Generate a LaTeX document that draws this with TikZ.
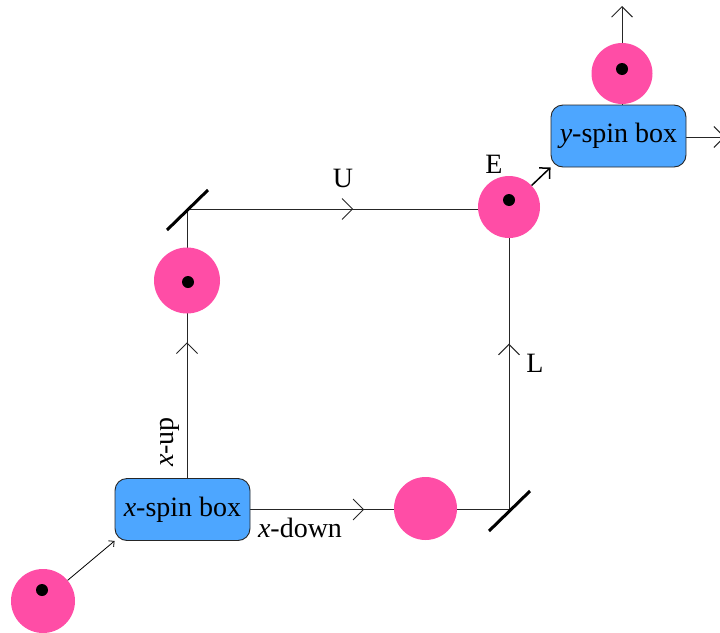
\documentclass[tikz,border=0pt]{standalone}
\usepackage{fontspec}
\setmainfont{Liberation Serif}
\newfontfamily\tms{Liberation Serif}
\usetikzlibrary{arrows.meta,decorations.markings,backgrounds}
\definecolor{ballpink}{RGB}{255,77,166}
\definecolor{boxblue}{RGB}{77,166,255}
\begin{document}
\begin{tikzpicture}[x=1pt,y=-1pt,
  bigbarb/.tip={Straight Barb[length=10.5pt,width=21pt]},
  ln/.style={line width=0.9pt,black!85},
  spinbox/.style={draw=black!85,line width=0.9pt,rounded corners=12pt,fill=boxblue,
    minimum width=135pt,minimum height=62pt,inner sep=0pt,
    font=\tms\fontsize{28}{33}\selectfont},
  ball/.style={circle,fill=ballpink,inner sep=0pt,minimum size=#1},
  dotmark/.style={circle,fill=black,inner sep=0pt,minimum size=12pt},
  mirror/.style={line width=3pt,black},
  lbl/.style={inner sep=0pt,font=\tms\fontsize{28}{33}\selectfont},
  midarrow/.style={postaction={decorate},
    decoration={markings,mark=at position #1 with {\arrow{bigbarb}}}}]
\useasboundingbox (0,0) rectangle (720,632);

% nodes
\node[spinbox] (xbox) at (182.5,509.5) {\textit{x}-spin box};
\node[spinbox] (ybox) at (618.5,136) {\textit{y}-spin box};
\node[ball=64pt] (c0) at (43,601) {};
\node[ball=66pt] (c1) at (187,280.5) {};
\node[ball=62pt] (cE) at (509,207) {};
\node[ball=63pt] (cB) at (425.5,508.5) {};
\node[ball=61pt] (cT) at (622,73.5) {};
\node[dotmark] (d0) at (42,590) {};
\node[dotmark] (d1) at (188,282) {};
\node[dotmark] (dE) at (509,200) {};
\node[dotmark] (dT) at (622,69) {};
\coordinate (m1) at (187,209);
\coordinate (m2) at (509,509.5);
\coordinate (topend) at (622,6);
\coordinate (rightend) at (725,137);

% labels
\node[lbl] (lU) at (343,178) {U};
\node[lbl] (lE) at (494,164) {E};
\node[lbl] (lL) at (535,363) {L};
\node[lbl,anchor=base] (lxd) at (300,537) {\textit{x}-down};
\node[lbl,rotate=90] (lxu) at (170,442) {\textit{x}-up};

% connectors behind the balls
\begin{scope}[on background layer]
  \draw[ln,midarrow=0.504] (xbox.north -| m1) -- (m1);
  \draw[ln,midarrow=0.516] (m1) -- (cE.center |- m1);
  \draw[ln,midarrow=0.44] (xbox.east) -- (m2);
  \draw[ln,midarrow=0.548] (m2) -- (m2 |- cE.center);
  \draw[ln,-{bigbarb}] (ybox.north -| cT) -- (topend);
  \draw[ln,-{bigbarb}] (ybox.east |- rightend) -- (rightend);
\end{scope}

% other arrows
\draw[line width=0.8pt,-{Straight Barb[length=4pt,width=8pt]}] (c0) -- (xbox.south west);
\draw[line width=1.5pt,-{Straight Barb[length=7.5pt,width=15pt]}] (cE) -- (ybox.south west);

% mirrors
\draw[mirror] (167,230) -- (208,190);
\draw[mirror] (489,531) -- (530,491);
\end{tikzpicture}
\end{document}
